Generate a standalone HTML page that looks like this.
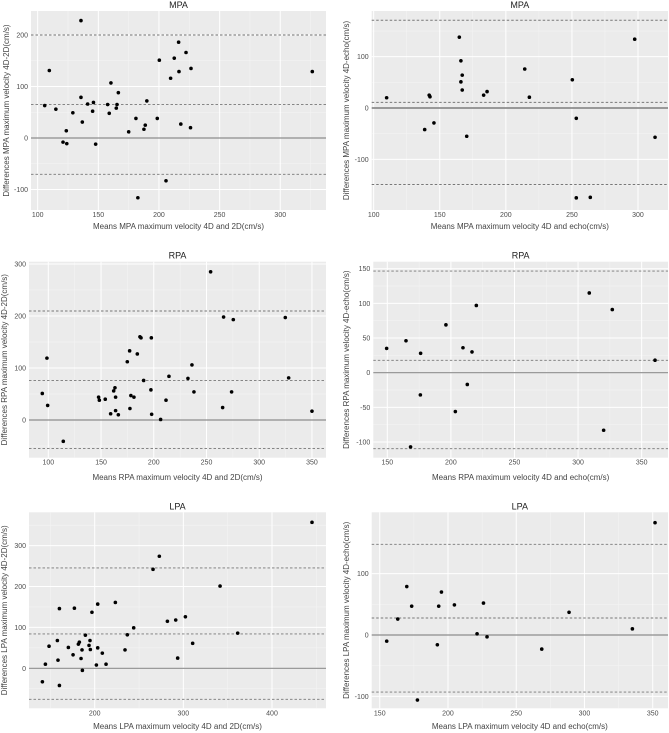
<!DOCTYPE html>
<html><head><meta charset="utf-8"><style>
body{margin:0;background:#fff;}
svg{display:block;font-family:"Liberation Sans",sans-serif;}
</style></head><body>
<svg id="chart" width="669" height="733"></svg>
<script>
// ---- data ----
const mpa2dX=[135.7,109.6,105.8,115,129,123.6,120.9,124,135.7,136.8,141.2,145.3,146,147.8,157.7,159,160.4,164.8,165.4,166.5,175,181,187.6,188.7,190,198.6,200.3,205.8,182.6,209.6,212.6,216.2,216.5,218,222.3,226,226.4,326.4];
const mpa2dY=[228,131,63,56,49,14,-8,-11,79,31,66,52,69,-12,65,48,107,58,65,88,12,38,17,25,72,38,151,-83,-116,116,155,186,129,27,166,20,135,129];
const mpa2dLines=[200,65,-70.5];
const mpaEchoX=[109.8,138.6,142,142.6,145.6,164.8,166,166,167,167,170.4,183.2,185.8,214.3,217.8,250.3,253.3,253.3,263.9,297.5,312.9];
const mpaEchoY=[20,-42,25,22,-29,138,92,51,64,35,-55,25,32,76,21,55,-20,-175,-174,134,-57];
const mpaEchoLines=[171,11,-149];
const rpa2dX=[94.3,98.7,99.4,114.2,147.7,148.4,154,159.1,162,163.2,163.8,163.8,166.4,174.9,177.1,177.4,178.3,181.2,184.4,186.9,187.9,190.4,197.3,197.7,198,206.5,211.6,214.4,232.4,236.2,238.1,253.9,265.3,266.2,273.8,275.4,324.7,327.9,350];
const rpa2dY=[51,119,28,-41,44,38,40,12,56,62,44,18,10,112,133,22,47,44,127,160,158,76,58,158,11,1,38,84,80,106,54,285,24,198,54,193,197,81,17];
const rpa2dLines=[209.6,76,-55];
const rpaEchoX=[149.5,164.7,168.3,176.2,176,196.1,203.5,209.5,212.9,216.6,220,308.8,320.1,326.9,360.5];
const rpaEchoY=[35,46,-107,28,-32,69,-56,36,-17,30,97,115,-83,91,18];
const rpaEchoLines=[146.6,17.8,-109.6];
const lpa2dX=[141,144.4,148.5,157.9,158.6,160.2,160.2,170.3,175.6,177.1,181.6,182.7,184.6,185.7,186.1,189.5,193.6,194.7,195.1,196.9,201.9,203.4,203.4,208.6,212.8,223.3,234.2,236.8,244,265.8,272.9,282,291.4,293.6,302.3,310.5,341.4,361.3,445.1];
const lpa2dY=[-33,10,54,68,20,146,-42,51,33,147,59,64,24,45,-5,81,56,68,46,137,8,157,50,37,10,161,45,82,99,242,274,115,118,25,126,61,201,86,357];
const lpa2dLines=[245.4,84,-75.8];
const lpaEchoX=[155.1,163.2,169.8,173.4,177.6,192.2,193.2,195.2,204.7,221.3,226,228.6,268.7,288.7,335.1,351.7];
const lpaEchoY=[-10,26,79,47,-106,-16,47,70,49,2,52,-3,-23,37,10,183];
const lpaEchoLines=[147.8,27.7,-93];
const xTicksA=[100,150,200,250,300];
const xTicksB=[100,150,200,250,300,350];
const xTicksC=[150,200,250,300,350];
const xTicksD=[200,300,400];
const yTicksP1=[-100,0,100,200];
const yTicksP2=[-100,0,100];
const yTicksP3=[0,100,200,300];
const yTicksP4=[-100,-50,0,50,100,150];
const yTicksP5=[0,100,200,300];
const yTicksP6=[-100,0,100];

const NS="http://www.w3.org/2000/svg";
const svg=document.getElementById('chart');
function mk(tag,attrs,parent){const e=document.createElementNS(NS,tag);for(const k in attrs)e.setAttribute(k,attrs[k]);(parent||svg).appendChild(e);return e;}

function panel(p){
  const g=mk('g',{});
  
  
  const sx=v=>p.l+(v-p.xd[0])/(p.xd[1]-p.xd[0])*(p.r-p.l);
  const sy=v=>p.b-(v-p.yd[0])/(p.yd[1]-p.yd[0])*(p.b-p.t);
  const bg=mk('rect',{x:p.l,y:p.t,width:p.r-p.l,height:p.b-p.t,fill:'#ebebeb'},g);
  
  
  const xs=p.xt[1]-p.xt[0], ys=p.yt[1]-p.yt[0];
  // minor grid
  for(let v=p.xt[0]-xs/2; v<=p.xd[1]; v+=xs){ if(v>=p.xd[0]){const x=sx(v);mk('line',{x1:x,x2:x,y1:p.t,y2:p.b,stroke:'#f5f5f5','stroke-width':0.5},g);} }
  for(let v=p.yt[0]-ys/2; v<=p.yd[1]; v+=ys){ if(v>=p.yd[0]){const y=sy(v);mk('line',{x1:p.l,x2:p.r,y1:y,y2:y,stroke:'#f5f5f5','stroke-width':0.5},g);} }
  p.xt.forEach(v=>{const x=sx(v);mk('line',{x1:x,x2:x,y1:p.t,y2:p.b,stroke:'#fff','stroke-width':1},g);
    const t=mk('text',{x:x,y:p.b+7,'font-size':7,fill:'#4d4d4d','text-anchor':'middle'},g);t.textContent=v;
    });
  p.yt.forEach(v=>{const y=sy(v);mk('line',{x1:p.l,x2:p.r,y1:y,y2:y,stroke:'#fff','stroke-width':1},g);
    const t=mk('text',{x:p.l-3,y:y+2.5,'font-size':7,fill:'#4d4d4d','text-anchor':'end'},g);t.textContent=v;
    });
  const z=mk('line',{x1:p.l,x2:p.r,y1:sy(0),y2:sy(0),stroke:'#8c8c8c','stroke-width':p.zw||1.2},g);
  
  p.lines.forEach(v=>{const d=mk('line',{x1:p.l,x2:p.r,y1:sy(v),y2:sy(v),stroke:'#777','stroke-width':0.9,'stroke-dasharray':'2.5,2'},g);
    });
  p.xs.forEach((v,i)=>{const c=mk('circle',{cx:sx(v),cy:sy(p.ys[i]),r:1.8,fill:'#000'},g);
    });
  const tt=mk('text',{x:(p.l+p.r)/2,y:p.t-3,'font-size':9,fill:'#222','text-anchor':'middle'},g);tt.textContent=p.title;
  
  const xa=mk('text',{x:(p.l+p.r)/2,y:p.xty,'font-size':8,fill:'#444','text-anchor':'middle'},g);xa.textContent=p.xlab;
  
  const cy=(p.t+p.b)/2;
  const ya=mk('text',{x:p.ytx,y:cy,'font-size':8,fill:'#444','text-anchor':'middle',transform:`rotate(-90 ${p.ytx} ${cy})`},g);ya.textContent=p.ylab;
  
}

panel({name:'mpa-4d-vs-2d-panel',title:'MPA',l:31,t:11,r:326,b:210,xd:[94.5,337.7],yd:[-139.8,246.6],xt:xTicksA,yt:yTicksP1,lines:mpa2dLines,xs:mpa2dX,ys:mpa2dY,xty:229,ytx:9,xlab:'Means MPA maximum velocity 4D and 2D(cm/s)',ylab:'Differences MPA maximum velocity 4D-2D(cm/s)'});
panel({name:'mpa-4d-vs-echo-panel',title:'MPA',l:371.7,t:11,r:668,b:210,xd:[98.5,322.7],yd:[-198.7,189],xt:xTicksA,yt:yTicksP2,lines:mpaEchoLines,xs:mpaEchoX,ys:mpaEchoY,xty:229,ytx:349,zw:1.8,xlab:'Means MPA maximum velocity 4D and echo(cm/s)',ylab:'Differences MPA maximum velocity 4D-echo(cm/s)'});
panel({name:'rpa-4d-vs-2d-panel',title:'RPA',l:29,t:261.7,r:326,b:457.7,xd:[81.7,363.3],yd:[-72.5,304.4],xt:xTicksB,yt:yTicksP3,lines:rpa2dLines,xs:rpa2dX,ys:rpa2dY,xty:480,ytx:7,xlab:'Means RPA maximum velocity 4D and 2D(cm/s)',ylab:'Differences RPA maximum velocity 4D-2D(cm/s)'});
panel({name:'rpa-4d-vs-echo-panel',title:'RPA',l:373.3,t:261.7,r:668,b:457.7,xd:[139,370.7],yd:[-122.6,160.1],xt:xTicksC,yt:yTicksP4,lines:rpaEchoLines,xs:rpaEchoX,ys:rpaEchoY,xty:480,ytx:349,xlab:'Means RPA maximum velocity 4D and echo(cm/s)',ylab:'Differences RPA maximum velocity 4D-echo(cm/s)'});
panel({name:'lpa-4d-vs-2d-panel',title:'LPA',l:29,t:512.3,r:326,b:708.3,xd:[125.9,460.9],yd:[-97.8,381.5],xt:xTicksD,yt:yTicksP5,lines:lpa2dLines,xs:lpa2dX,ys:lpa2dY,xty:729,ytx:7,xlab:'Means LPA maximum velocity 4D and 2D(cm/s)',ylab:'Differences LPA maximum velocity 4D-2D(cm/s)'});
panel({name:'lpa-4d-vs-echo-panel',title:'LPA',l:371.7,t:512.3,r:668,b:708.3,xd:[144.1,361.2],yd:[-119.5,200],xt:xTicksC,yt:yTicksP6,lines:lpaEchoLines,xs:lpaEchoX,ys:lpaEchoY,xty:729,ytx:349,xlab:'Means LPA maximum velocity 4D and echo(cm/s)',ylab:'Differences LPA maximum velocity 4D-echo(cm/s)'});
</script>
</body></html>
